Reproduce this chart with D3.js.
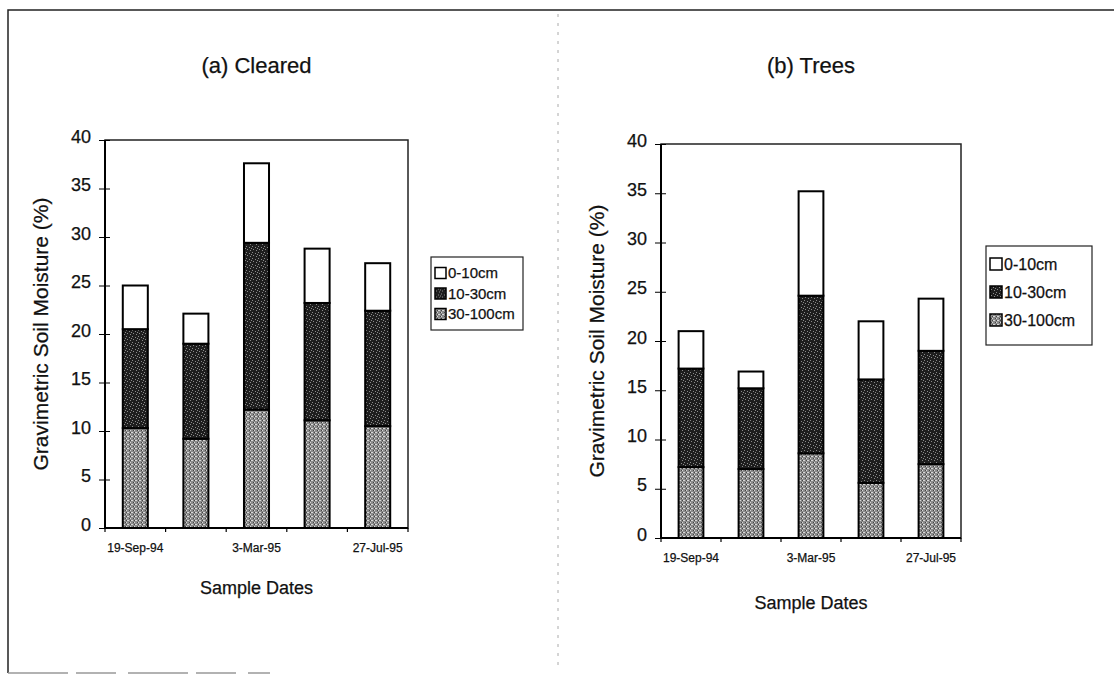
<html>
<head>
<meta charset="utf-8">
<title>Gravimetric soil moisture - cleared vs trees</title>
<script src="https://d3js.org/d3.v7.min.js"></script>
<style>
body{ margin:0; background:#fff; }
text{ font-family:"Liberation Sans", Arial, sans-serif; fill:#111; stroke:#111; stroke-width:0.25px; }
.frame{ fill:none; stroke:#222; stroke-width:1.5px; }
.divider{ stroke:#aaa; stroke-width:1px; stroke-dasharray:3,6; }
.plotbox{ fill:none; stroke:#222; stroke-width:1.5px; }
.axisline{ stroke:#000; stroke-width:2px; }
.bar{ stroke:#000; stroke-width:2px; }
.legbox{ fill:#fff; stroke:#222; stroke-width:1.2px; }
</style>
</head>
<body>
<script>
var width = 1114, height = 676;

// five sampling dates, only three labelled on the axis
var samples = [0, 1, 2, 3, 4];
var dateLabels = ["19-Sep-94", "", "3-Mar-95", "", "27-Jul-95"];
var layers = ["0-10cm", "10-30cm", "30-100cm"];
var yTicks = [0, 5, 10, 15, 20, 25, 30, 35, 40];

// (a) Cleared  - moisture % contributed by each depth layer
var clearedTop  = [4.5, 3.1, 8.2, 5.6, 4.9];
var clearedMid  = [10.2, 9.8, 17.2, 12.1, 11.9];
var clearedDeep = [10.3, 9.2, 12.2, 11.1, 10.5];

// (b) Trees
var treesTop  = [3.8, 1.7, 10.6, 5.9, 5.3];
var treesMid  = [10.0, 8.2, 16.0, 10.5, 11.5];
var treesDeep = [7.2, 7.0, 8.6, 5.6, 7.5];

function table(top, mid, deep){
	return samples.map(function(i){
		return { "0-10cm": top[i], "10-30cm": mid[i], "30-100cm": deep[i] };
	});
}

var panels = [
	{ title: "(a) Cleared", data: table(clearedTop, clearedMid, clearedDeep),
	  left: 105, right: 408, bottom: 528, top: 140, titleY: 65, xlabY: 588,
	  leg: { x: 431, y: 257, w: 92, h: 73, first: 16, gap: 20.5, fs: 15, sw: 11 } },
	{ title: "(b) Trees", data: table(treesTop, treesMid, treesDeep),
	  left: 661, right: 961, bottom: 538, top: 144, titleY: 65, xlabY: 603,
	  leg: { x: 986, y: 246, w: 106, h: 99, first: 18, gap: 28, fs: 16, sw: 12 } }
];

var svg = d3.select("body").append("svg")
			.attr("width", width)
			.attr("height", height);

// halftone-ish textures of the scanned original
var defs = svg.append("defs");
var dark = defs.append("pattern").attr("id", "texDark")
	.attr("patternUnits", "userSpaceOnUse").attr("width", 6).attr("height", 6);
dark.append("rect").attr("width", 6).attr("height", 6).attr("fill", "#1e1e1e");
[[0,0],[3,1],[1,3],[4,4],[5,2]].forEach(function(p){
	dark.append("rect").attr("x", p[0]).attr("y", p[1]).attr("width", 1).attr("height", 1).attr("fill", "#8a8a8a");
});
var grey = defs.append("pattern").attr("id", "texGrey")
	.attr("patternUnits", "userSpaceOnUse").attr("width", 4).attr("height", 4);
grey.append("rect").attr("width", 4).attr("height", 4).attr("fill", "#8a8a8a");
[[0,0],[2,2],[3,0]].forEach(function(p){
	grey.append("rect").attr("x", p[0]).attr("y", p[1]).attr("width", 1).attr("height", 1).attr("fill", "#d8d8d8");
});
[[1,2],[2,0]].forEach(function(p){
	grey.append("rect").attr("x", p[0]).attr("y", p[1]).attr("width", 1).attr("height", 1).attr("fill", "#444");
});

var fills = { "0-10cm": "#fff", "10-30cm": "url(#texDark)", "30-100cm": "url(#texGrey)" };

// outer frame of the scanned figure
svg.append("path").attr("class", "frame")
	.attr("d", "M8,673 L8,10 L1114,10");
svg.append("line").attr("x1", 8).attr("x2", 270).attr("y1", 673).attr("y2", 673)
	.attr("stroke", "#999").attr("stroke-width", 1.5).attr("stroke-dasharray", "60,8,40,12");
svg.append("line").attr("class", "divider")
	.attr("x1", 558).attr("x2", 558).attr("y1", 14).attr("y2", 670);

var stack = d3.stack().keys(["30-100cm", "10-30cm", "0-10cm"]);

panels.forEach(function(p){

	var x = d3.scaleBand().domain(samples)
				.range([p.left, p.right])
				.paddingInner(0.587).paddingOuter(0.2935);
	var y = d3.scaleLinear().domain([0, 40]).range([p.bottom, p.top]);

	var g = svg.append("g");

	// plot area border
	g.append("rect").attr("class", "plotbox")
		.attr("x", p.left).attr("y", p.top)
		.attr("width", p.right - p.left).attr("height", p.bottom - p.top);

	// stacked bars
	g.selectAll(".layer")
		.data(stack(p.data))
		.enter().append("g")
		.attr("class", "layer")
		.attr("fill", function(d){ return fills[d.key]; })
		.selectAll("rect")
		.data(function(d){ return d; })
		.enter().append("rect")
		.attr("class", "bar")
		.attr("x", function(d, i){ return x(samples[i]); })
		.attr("width", x.bandwidth())
		.attr("y", function(d){ return y(d[1]); })
		.attr("height", function(d){ return y(d[0]) - y(d[1]); });

	// y axis with crossing ticks
	var ya = g.append("g")
		.attr("transform", "translate(" + p.left + ",0)")
		.call(d3.axisLeft(y).tickValues(yTicks).tickSize(6).tickPadding(8))
		.attr("font-size", null).attr("font-family", null);
	ya.select(".domain").remove();
	ya.selectAll(".tick line").attr("x1", 5).attr("stroke", "#000");
	ya.selectAll(".tick text").style("font-size", "18px").attr("dy", "0.12em");
	g.append("line").attr("class", "axisline")
		.attr("x1", p.left).attr("x2", p.left).attr("y1", p.top).attr("y2", p.bottom + 1);

	// x axis: ticks between categories, labels under bars
	g.append("line").attr("class", "axisline")
		.attr("x1", p.left).attr("x2", p.right).attr("y1", p.bottom).attr("y2", p.bottom);
	g.selectAll(".xtick")
		.data(d3.range(samples.length + 1))
		.enter().append("line")
		.attr("x1", function(i){ return p.left + i * x.step(); })
		.attr("x2", function(i){ return p.left + i * x.step(); })
		.attr("y1", p.bottom).attr("y2", p.bottom + 4)
		.attr("stroke", "#000").attr("stroke-width", 1.2);
	g.selectAll(".xlab")
		.data(samples)
		.enter().append("text")
		.attr("x", function(d){ return x(d) + x.bandwidth() / 2; })
		.attr("y", p.bottom + 24)
		.attr("text-anchor", "middle")
		.style("font-size", "12px")
		.text(function(d){ return dateLabels[d]; });

	// titles
	var cx = (p.left + p.right) / 2;
	g.append("text").attr("x", cx).attr("y", p.titleY + 8)
		.attr("text-anchor", "middle").style("font-size", "22px")
		.text(p.title);
	g.append("text").attr("x", cx).attr("y", p.xlabY + 6)
		.attr("text-anchor", "middle").style("font-size", "18px")
		.text("Sample Dates");
	g.append("text")
		.attr("transform", "translate(" + (p.left - 57) + "," + ((p.top + p.bottom) / 2) + ") rotate(-90)")
		.attr("text-anchor", "middle").style("font-size", "21px")
		.text("Gravimetric Soil Moisture (%)");

	// legend
	var L = p.leg;
	var lg = g.append("g").attr("transform", "translate(" + L.x + "," + L.y + ")");
	lg.append("rect").attr("class", "legbox").attr("width", L.w).attr("height", L.h);
	var item = lg.selectAll(".item").data(layers).enter().append("g")
		.attr("transform", function(d, i){ return "translate(4," + (L.first + i * L.gap) + ")"; });
	item.append("rect")
		.attr("y", -L.sw / 2).attr("width", L.sw).attr("height", L.sw)
		.attr("fill", function(d){ return fills[d]; })
		.attr("stroke", "#000").attr("stroke-width", 1.5);
	item.append("text")
		.attr("x", L.sw + 2).attr("dy", "0.35em")
		.style("font-size", L.fs + "px")
		.text(function(d){ return d; });
});

</script>
</body>
</html>
